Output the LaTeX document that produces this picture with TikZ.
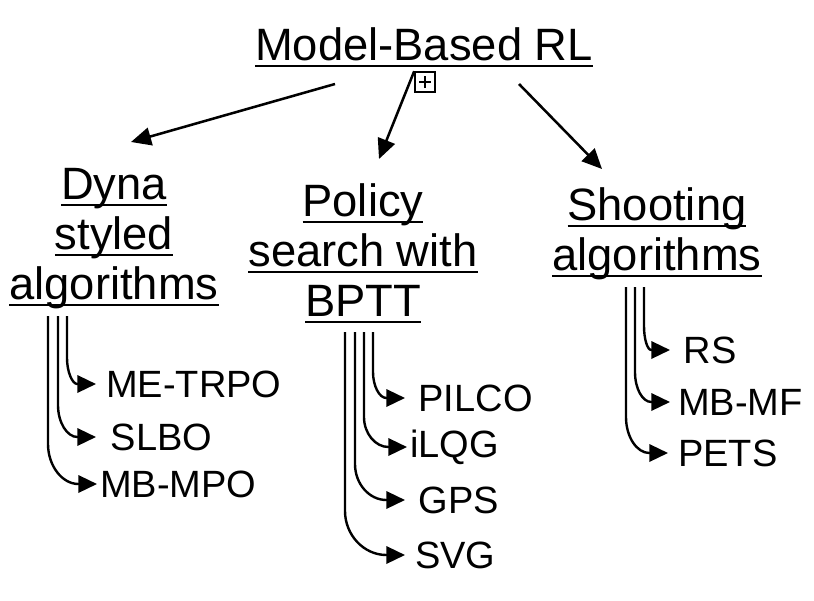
\documentclass[tikz,border=0pt]{standalone}
\usepackage{fontspec}
\setmainfont{Liberation Sans}
\usetikzlibrary{arrows.meta,calc}
\newcommand{\undl}[1]{\setbox0\hbox{#1}\rlap{\rule[-5pt]{\wd0}{1.5pt}}\box0}

\begin{document}
\begin{tikzpicture}[x=0.75pt,y=-0.75pt,
    head/.style={font=\fontsize{34}{37.5}\selectfont, align=center, inner sep=0pt},
    leaf/.style={font=\fontsize{28.5}{30}\selectfont, anchor=west, inner ysep=0pt},
    branch/.style={-{Triangle[length=15pt,width=13.5pt]}, line width=1.9pt},
    sub/.style={-{Triangle[length=14pt,width=13pt]}, line width=1.8pt}]
        \useasboundingbox (0,0) rectangle (814,600);

        % Wurzel
        \node[head, anchor=base] (root) at (424,60) {\undl{Model-Based RL}};
        \node[draw, line width=1.2pt, minimum size=15pt, inner sep=0pt,
              path picture={\draw[line width=1.2pt] ([xshift=-4.5pt]path picture bounding box.center) -- ++(9pt,0)
                            ([yshift=-4.5pt]path picture bounding box.center) -- ++(0,9pt);}] (toggle) at (425,82) {};

        % Gruppen
        \node[head, anchor=north] (dyna) at (114,168) {\undl{Dyna}\\\undl{styled}\\\undl{algorithms}};
        \node[head, anchor=north] (policy) at (363,183) {\undl{Policy}\\\undl{search with}\\\undl{BPTT}};
        \node[head, anchor=north] (shoot) at (657,187) {\undl{Shooting}\\\undl{algorithms}};

        \coordinate (r1) at (335,84);
        \coordinate (r3) at (519,84);
        \draw[branch] (r1) -- ($(dyna.north)+(17,-26)$);
        \draw[branch] (toggle.north west) -- ($(policy.north)+(16,-24)$);
        \draw[branch] (r3) -- ($(shoot.north)+(-55,-18)$);

        % Dyna
        \node[leaf, inner xsep=7.5pt] (metrpo) at (96,384) {ME-TRPO};
        \node[leaf, inner xsep=11pt] (slbo) at (96,437) {SLBO};
        \node[leaf, inner xsep=2.3pt] (mbmpo) at (97,484) {MB-MPO};
        \coordinate (d1) at (67,316);
        \coordinate (d2) at (58,316);
        \coordinate (d3) at (48,316);
        \draw[sub] (d1) -- ($(d1 |- metrpo.west)+(0,-26)$) .. controls +(0,14) and +(-5,0) .. ([xshift=-14pt]metrpo.west) -- (metrpo.west);
        \draw[sub] (d2) -- ($(d2 |- slbo.west)+(0,-32)$) .. controls +(0,18) and +(-10,0) .. ([xshift=-14pt]slbo.west) -- (slbo.west);
        \draw[sub] (d3) -- ($(d3 |- mbmpo.west)+(0,-40)$) .. controls +(0,22) and +(-16,0) .. ([xshift=-14pt]mbmpo.west) -- (mbmpo.west);

        % Policy search
        \node[leaf, inner xsep=10pt] (pilco) at (405,398) {PILCO};
        \node[leaf, inner xsep=2.3pt] (ilqg) at (407,447) {iLQG};
        \node[leaf, inner xsep=10pt] (gps) at (405,500) {GPS};
        \node[leaf, inner xsep=7.5pt] (svg) at (405,555) {SVG};
        \coordinate (p1) at (373,332);
        \coordinate (p2) at (364,332);
        \coordinate (p3) at (355,332);
        \coordinate (p4) at (345,332);
        \draw[sub] (p1) -- ($(p1 |- pilco.west)+(0,-26)$) .. controls +(0,14) and +(-7,0) .. ([xshift=-14pt]pilco.west) -- (pilco.west);
        \draw[sub] (p2) -- ($(p2 |- ilqg.west)+(0,-30)$) .. controls +(0,16.5) and +(-13,0) .. ([xshift=-14pt]ilqg.west) -- (ilqg.west);
        \draw[sub] (p3) -- ($(p3 |- gps.west)+(0,-36)$) .. controls +(0,20) and +(-17,0) .. ([xshift=-14pt]gps.west) -- (gps.west);
        \draw[sub] (p4) -- ($(p4 |- svg.west)+(0,-44)$) .. controls +(0,24) and +(-22.5,0) .. ([xshift=-14pt]svg.west) -- (svg.west);

        % Shooting
        \node[leaf, inner xsep=10pt] (rs) at (670,350) {RS};
        \node[leaf, inner xsep=6pt] (mbmf) at (670,402) {MB-MF};
        \node[leaf, inner xsep=7.5pt] (pets) at (668,453) {PETS};
        \coordinate (s1) at (644,287);
        \coordinate (s2) at (635,287);
        \coordinate (s3) at (626,287);
        \draw[sub] (s1) -- ($(s1 |- rs.west)+(0,-24)$) .. controls +(0,13) and +(-4,0) .. ([xshift=-14pt]rs.west) -- (rs.west);
        \draw[sub] (s2) -- ($(s2 |- mbmf.west)+(0,-30)$) .. controls +(0,16.5) and +(-9,0) .. ([xshift=-14pt]mbmf.west) -- (mbmf.west);
        \draw[sub] (s3) -- ($(s3 |- pets.west)+(0,-36)$) .. controls +(0,20) and +(-12.5,0) .. ([xshift=-14pt]pets.west) -- (pets.west);
    \end{tikzpicture}
\end{document}
